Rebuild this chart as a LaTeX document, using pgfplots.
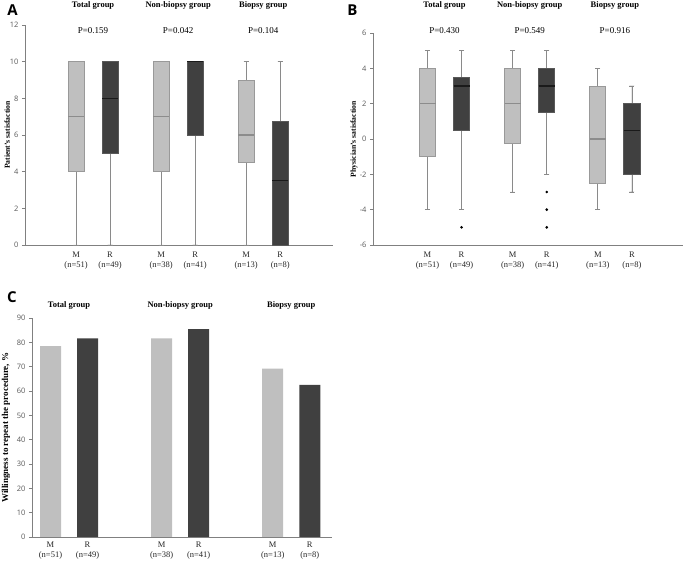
\documentclass[border=0pt]{standalone}
\usepackage{fontspec}
\setmainfont{Liberation Serif}
\newfontfamily\osans{Open Sans}
\usepackage{pgfplots}
\pgfplotsset{compat=1.18}
\usepgfplotslibrary{statistics}

\definecolor{lightfill}{HTML}{BFBFBF}
\definecolor{darkfill}{HTML}{404040}
\definecolor{lightedge}{HTML}{999999}
\definecolor{darkedge}{HTML}{595959}
\definecolor{lightmed}{HTML}{8C8C8C}
\definecolor{darkmed}{HTML}{1A1A1A}
\definecolor{whisk}{HTML}{8A8A8A}
\definecolor{axisgray}{HTML}{808080}
\definecolor{ticktext}{HTML}{595959}

\newcommand{\ticksize}{\osans\fontsize{7.5}{8.5}\selectfont}
\newcommand{\catsize}{\fontsize{8.5}{10}\selectfont}
\newcommand{\grpsize}{\bfseries\fontsize{8.5}{10}\selectfont}
\newcommand{\psize}{\fontsize{9}{10}\selectfont}

\pgfplotsset{
  panel/.style={
    anchor=south west, scale only axis, clip=false,
    axis lines=left,
    axis line style={-, draw=axisgray, line width=0.8pt},
    tick align=outside, major tick length=3pt,
    ytick style={draw=axisgray, line width=0.6pt},
    xtick style={draw=none},
    /pgf/number format/assume math mode=true,
    yticklabel style={font=\ticksize, text=ticktext},
    xticklabel style={font=\catsize, align=center, text=black!85},
    ylabel style={font=\bfseries\fontsize{7.7}{9}\selectfont, anchor=center},
  },
  mbox/.style={draw=lightedge, fill=lightfill, line width=0.8pt,
    mark=*, mark size=0.9pt, mark options={draw=black, fill=black},
    boxplot/every median/.style={draw=lightmed, line width=1.1pt},
    boxplot/every whisker/.style={draw=whisk, line width=0.8pt}},
  rbox/.style={draw=darkedge, fill=darkfill, line width=0.8pt,
    mark=*, mark size=0.9pt, mark options={draw=black, fill=black},
    boxplot/every median/.style={draw=darkmed, line width=1.1pt},
    boxplot/every whisker/.style={draw=whisk, line width=0.8pt}},
  boxplot/draw direction=y,
  boxplot/box extend=0.47,
  boxplot/whisker extend=0.15,
}

\begin{document}
\begin{tikzpicture}
\useasboundingbox (0pt,0pt) rectangle (685pt,561pt);

% ---------- A: patient's satisfaction
\begin{axis}[panel, at={(25pt,316pt)}, width=308pt, height=220pt,
  xmin=-1.5, xmax=7.55, ymin=0, ymax=12, ytick distance=2,
  xtick={0,1,2.5,3.5,5,6},
  xticklabels={{M\\(n=51)},{R\\(n=49)},{M\\(n=38)},{R\\(n=41)},{M\\(n=13)},{R\\(n=8)}},
  ylabel={Patient’s satisfaction},
  ylabel style={at={(axis description cs:-0.058,0.5)}},
]
\addplot[mbox, boxplot prepared={draw position=0, lower whisker=0, lower quartile=4, median=7, upper quartile=10, upper whisker=10}] coordinates {};
\addplot[rbox, boxplot prepared={draw position=1, lower whisker=0, lower quartile=5, median=8, upper quartile=10, upper whisker=10}] coordinates {};
\addplot[mbox, boxplot prepared={draw position=2.5, lower whisker=0, lower quartile=4, median=7, upper quartile=10, upper whisker=10}] coordinates {};
\addplot[rbox, boxplot prepared={draw position=3.5, lower whisker=0, lower quartile=6, median=10, upper quartile=10, upper whisker=10}] coordinates {};
\addplot[mbox, boxplot prepared={draw position=5, lower whisker=0, lower quartile=4.5, median=6, upper quartile=9, upper whisker=10}] coordinates {};
\addplot[rbox, boxplot prepared={draw position=6, lower whisker=0, lower quartile=0, median=3.5, upper quartile=6.75, upper whisker=10}] coordinates {};
\node[font=\grpsize] at (axis cs:0.5,13.09) {Total group};
\node[font=\grpsize] at (axis cs:3,13.09) {Non-biopsy group};
\node[font=\grpsize] at (axis cs:5.5,13.09) {Biopsy group};
\node[font=\psize] at (axis cs:0.5,11.7) {P=0.159};
\node[font=\psize] at (axis cs:3,11.7) {P=0.042};
\node[font=\psize] at (axis cs:5.5,11.7) {P=0.104};
\end{axis}

% ---------- B: physician's satisfaction
\begin{axis}[panel, at={(373pt,316pt)}, width=310pt, height=212pt,
  xmin=-1.6, xmax=7.5, ymin=-6, ymax=6, ytick distance=2,
  xtick={0,1,2.5,3.5,5,6},
  xticklabels={{M\\(n=51)},{R\\(n=49)},{M\\(n=38)},{R\\(n=41)},{M\\(n=13)},{R\\(n=8)}},
  ylabel={Physician’s satisfaction},
  ylabel style={at={(axis description cs:-0.061,0.5)}},
]
\addplot[mbox, boxplot prepared={draw position=0, lower whisker=-4, lower quartile=-1, median=2, upper quartile=4, upper whisker=5}] coordinates {};
\addplot[rbox, boxplot prepared={draw position=1, lower whisker=-4, lower quartile=0.5, median=3, upper quartile=3.5, upper whisker=5}] table[row sep=\\, y index=0] {-5\\};
\addplot[mbox, boxplot prepared={draw position=2.5, lower whisker=-3, lower quartile=-0.25, median=2, upper quartile=4, upper whisker=5}] coordinates {};
\addplot[rbox, boxplot prepared={draw position=3.5, lower whisker=-2, lower quartile=1.5, median=3, upper quartile=4, upper whisker=5}] table[row sep=\\, y index=0] {-3\\ -4\\ -5\\};
\addplot[mbox, boxplot prepared={draw position=5, lower whisker=-4, lower quartile=-2.5, median=0, upper quartile=3, upper whisker=4}] coordinates {};
\addplot[rbox, boxplot prepared={draw position=6, lower whisker=-3, lower quartile=-2, median=0.5, upper quartile=2, upper whisker=3}] coordinates {};
\node[font=\grpsize] at (axis cs:0.5,7.58) {Total group};
\node[font=\grpsize] at (axis cs:3,7.58) {Non-biopsy group};
\node[font=\grpsize] at (axis cs:5.5,7.58) {Biopsy group};
\node[font=\psize] at (axis cs:0.5,6.11) {P=0.430};
\node[font=\psize] at (axis cs:3,6.11) {P=0.549};
\node[font=\psize] at (axis cs:5.5,6.11) {P=0.916};
\end{axis}

% ---------- C: willingness to repeat
\begin{axis}[panel, at={(32pt,24pt)}, width=300pt, height=219pt,
  xmin=-0.5, xmax=7.6, ymin=0, ymax=90, ytick distance=10,
  xtick={0,1,3,4,6,7},
  xticklabels={{M\\(n=51)},{R\\(n=49)},{M\\(n=38)},{R\\(n=41)},{M\\(n=13)},{R\\(n=8)}},
  xticklabel style={yshift=2pt},
  ylabel={Willingness to repeat the procedure, \%},
  ylabel style={at={(axis description cs:-0.087,0.5)}, font=\bfseries\fontsize{9}{10}\selectfont},
]
\addplot[ybar, bar width=21pt, bar shift=0pt, fill=lightfill, draw=none] coordinates {(0,78.4) (3,81.6) (6,69.2)};
\addplot[ybar, bar width=21pt, bar shift=0pt, fill=darkfill, draw=none] coordinates {(1,81.6) (4,85.4) (7,62.5)};
\node[font=\grpsize] at (axis cs:0.5,95.06) {Total group};
\node[font=\grpsize] at (axis cs:3.5,95.06) {Non-biopsy group};
\node[font=\grpsize] at (axis cs:6.5,95.06) {Biopsy group};
\end{axis}

\node[font=\osans\bfseries\fontsize{15}{15}\selectfont] at (12.5pt,550.5pt) {A};
\node[font=\osans\bfseries\fontsize{15}{15}\selectfont] at (352.5pt,550.5pt) {B};
\node[font=\osans\bfseries\fontsize{15}{15}\selectfont] at (12pt,264pt) {C};
\end{tikzpicture}
\end{document}
